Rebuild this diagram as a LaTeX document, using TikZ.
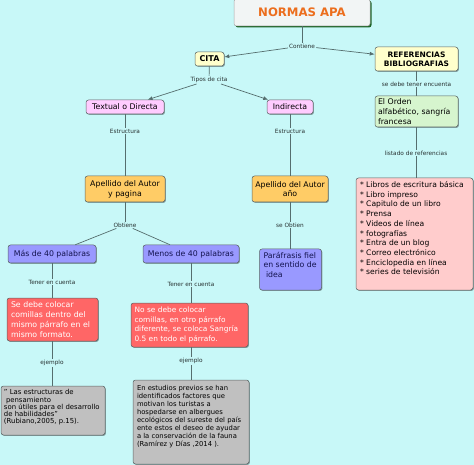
\documentclass[tikz,border=0pt]{standalone}
\usepackage{fontspec}
\setmainfont{DejaVu Sans}
\usetikzlibrary{arrows.meta,shadows}
\hyphenpenalty=10000
\exhyphenpenalty=10000
\definecolor{bgc}{RGB}{200,248,248}
\definecolor{linec}{RGB}{85,110,110}
\definecolor{bordc}{RGB}{90,100,100}
\definecolor{titlef}{RGB}{242,245,245}
\definecolor{titlet}{RGB}{236,110,30}
\definecolor{titles}{RGB}{30,100,40}
\definecolor{yellowf}{RGB}{255,255,204}
\definecolor{pinkf}{RGB}{255,204,255}
\definecolor{greenf}{RGB}{214,245,206}
\definecolor{orangef}{RGB}{255,204,102}
\definecolor{bluef}{RGB}{153,153,255}
\definecolor{redf}{RGB}{255,102,102}
\definecolor{rosef}{RGB}{255,204,204}
\definecolor{grayf}{RGB}{192,192,192}
\definecolor{labt}{RGB}{40,50,50}
\definecolor{navyt}{RGB}{20,20,80}
\newcommand\topbox[3]{\parbox[c][#1][t]{#2}{\raggedright #3}}
\begin{document}
\begin{tikzpicture}[x=1pt,y=-1pt,
 boxbase/.style={draw=bordc, line width=0.5pt, rounded corners=2.5pt, inner sep=0pt, font=\fontsize{7.8}{9.8}\selectfont},
 box/.style={boxbase, drop shadow={shadow xshift=0.9pt, shadow yshift=-0.9pt, fill=black, opacity=0.35}},
 lab/.style={fill=bgc, inner sep=1pt, font=\fontsize{5.8}{7}\selectfont, text=labt},
 con/.style={draw=linec, line width=0.7pt},
 arr/.style={con, -{Latex[length=5pt,width=4pt]}},
]
\fill[bgc] (0,0) rectangle (474,465);
\useasboundingbox (0,0) rectangle (474,465);

% title
\node[boxbase, fill=titlef, draw=gray!70, drop shadow={shadow xshift=1.5pt,shadow yshift=-1.5pt,fill=titles,opacity=1},
  minimum width=136pt, minimum height=27pt, text=titlet, font=\bfseries\fontsize{11.7}{14}\selectfont] (apa) at (302,12.5) {NORMAS APA};

% level 1
\node[box, fill=yellowf, minimum width=29pt, minimum height=14pt, font=\bfseries\fontsize{8}{9.5}\selectfont] (cita) at (209.5,59) {CITA};
\node[box, fill=yellowf, minimum width=83pt, minimum height=24pt, align=center, font=\bfseries\fontsize{7.5}{9.3}\selectfont] (ref) at (416.5,59) {REFERENCIAS\\BIBLIOGRAFIAS};

% level 2
\node[box, fill=pinkf, minimum width=78pt, minimum height=14pt] (textual) at (125,107) {Textual o Directa};
\node[box, fill=pinkf, minimum width=46pt, minimum height=14pt] (indirecta) at (290,107) {Indirecta};
\node[box, fill=greenf, minimum width=83pt, minimum height=31pt, inner xsep=3pt, text width=77pt, align=left] (orden) at (416.5,111.5) {El Orden\\alfabético, sangría\\francesa};

% level 3
\node[box, fill=orangef, minimum width=80pt, minimum height=26pt, align=center] (ape1) at (125,189) {Apellido del Autor\\y pagina};
\node[box, fill=orangef, minimum width=76pt, minimum height=26pt, align=center] (ape2) at (290,189) {Apellido del Autor\\año};
\node[box, fill=rosef, minimum width=117pt, minimum height=112pt, inner xsep=4pt, inner ysep=3.5pt, font=\fontsize{7.6}{9.7}\selectfont] (lista) at (414.5,234)
 {\topbox{105pt}{109pt}{* Libros de escritura básica\\{}* Libro impreso\\{}* Capitulo de un libro\\{}* Prensa\\{}* Videos de línea\\{}* fotografías\\{}* Entra de un blog\\{}* Correo electrónico\\{}* Enciclopedia en línea\\{}* series de televisión}};

% level 4
\node[box, fill=bluef, text=navyt, minimum width=88pt, minimum height=18pt] (mas) at (52,254) {Más de 40 palabras};
\node[box, fill=bluef, text=navyt, minimum width=96pt, minimum height=18pt] (menos) at (191,254) {Menos de 40 palabras};
\node[box, fill=bluef, text=navyt, minimum width=62pt, minimum height=41pt, inner xsep=4pt, inner ysep=3pt, font=\fontsize{7.8}{9.5}\selectfont] (para) at (290.5,269.5)
 {\topbox{35pt}{54pt}{Paráfrasis fiel\\en sentido de\\\hspace*{2.5pt}idea}};

% level 5
\node[box, fill=redf, text=white, minimum width=91pt, minimum height=43pt, inner xsep=4pt, text width=83pt, align=left] (sedebe) at (52.5,319.5)
 {Se debe colocar\\comillas dentro del\\mismo párrafo en el\\mismo formato.};
\node[box, fill=redf, text=white, minimum width=117pt, minimum height=44pt, inner xsep=3.5pt, text width=110pt, align=left, font=\fontsize{7.4}{9.8}\selectfont] (nose) at (189.5,325)
 {No se debe colocar\\comillas, en otro párrafo\\diferente, se coloca Sangría\\0.5 en todo el párrafo.};

% level 6
\node[box, fill=grayf, minimum width=104pt, minimum height=49pt, inner xsep=3pt, inner ysep=3.5pt, font=\fontsize{6.9}{7.3}\selectfont] (quote) at (53,410.5)
 {\topbox{42pt}{98pt}{" Las estructuras de\\\hspace*{2pt}pensamiento\\son útiles para el desarrollo\\de habilidades"\\(Rubiano,2005, p.15).}};
\node[box, fill=grayf, minimum width=116pt, minimum height=84pt, inner xsep=4pt, inner ysep=5pt, font=\fontsize{6.8}{8}\selectfont] (estudios) at (191,422)
 {\topbox{74pt}{108pt}{En estudios previos se han\\identificados factores que\\motivan los turistas a\\hospedarse en albergues\\ecológicos del sureste del país\\ente estos el deseo de ayudar\\a la conservación de la fauna\\(Ramírez y Días ,2014 ).}};

% labels
\node[lab] (l1) at (302,46) {Contiene};
\node[lab] (l2) at (209,80) {Tipos de cita};
\node[lab] (l3) at (416.5,84) {se debe tener encuenta};
\node[lab] (l4) at (125,131) {Estructura};
\node[lab] (l5) at (290,131) {Estructura};
\node[lab] (l6) at (416,153) {listado de referencias};
\node[lab] (l7) at (125,225) {Obtiene};
\node[lab] (l8) at (290,225) {se Obtien};
\node[lab] (l9) at (52,282) {Tener en cuenta};
\node[lab] (l10) at (191,284) {Tener en cuenta};
\node[lab] (l11) at (52,363) {ejemplo};
\node[lab] (l12) at (191,361) {ejemplo};

% connectors
\draw[con] (apa) -- (l1);
\draw[arr] (l1) -- (cita);
\draw[arr] (l1) -- (ref);
\draw[con] (cita) -- (l2);
\draw[arr] (l2) -- (textual);
\draw[arr] (l2) -- (indirecta);
\draw[con] (ref) -- (l3);
\draw[con] (l3) -- (orden);
\draw[con] (textual) -- (l4);
\draw[con] (l4) -- (ape1);
\draw[con] (indirecta) -- (l5);
\draw[con] (l5) -- (ape2);
\draw[con] (l6 |- orden.south) -- (l6);
\draw[con] (l6) -- (l6 |- lista.north);
\draw[con] (ape1) -- (l7);
\draw[con] (l7) -- (mas);
\draw[con] (l7) -- (menos);
\draw[con] (ape2) -- (l8);
\draw[con] (l8) -- (l8 |- para.north);
\draw[con] (mas) -- (l9);
\draw[con] (l9) -- (l9 |- sedebe.north);
\draw[con] (menos) -- (l10);
\draw[con] (l10) -- (l10 |- nose.north);
\draw[con] (l9 |- sedebe.south) -- (l11);
\draw[con] (l11) -- (l11 |- quote.north);
\draw[con] (l12 |- nose.south) -- (l12);
\draw[con] (l12) -- (estudios);
\end{tikzpicture}
\end{document}
